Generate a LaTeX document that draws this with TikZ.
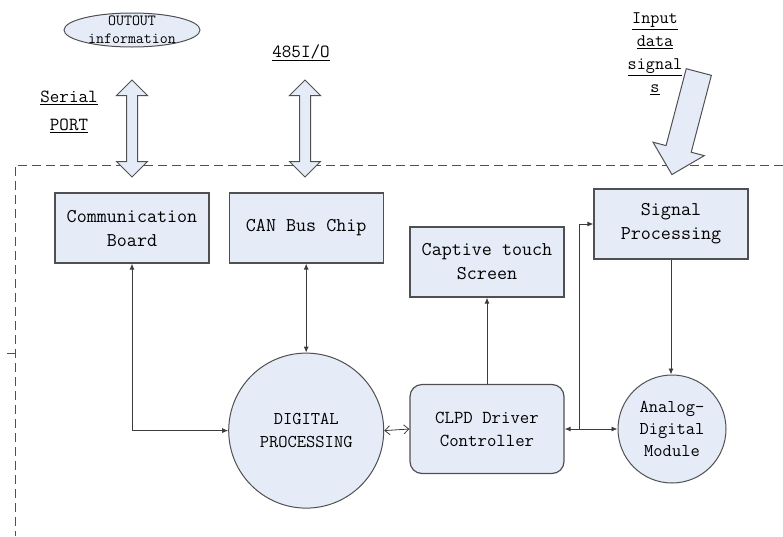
\documentclass[tikz,border=0pt]{standalone}
\usepackage{fontspec}
\usetikzlibrary{arrows.meta,positioning,shapes.geometric,shapes.arrows}
\definecolor{blockfill}{HTML}{E6ECF7}
\definecolor{blockline}{HTML}{505050}
\definecolor{wirecolor}{HTML}{3C3C3C}

\begin{document}
\begin{tikzpicture}[
  x=1pt, y=-1pt,
  font=\ttfamily\fontsize{18}{23}\selectfont,
  block/.style={rectangle, draw=blockline, fill=blockfill, line width=1.2pt, minimum width=154pt, minimum height=70pt, align=center, inner sep=2pt, font=\ttfamily\fontsize{19.5}{24}\selectfont},
  roundblock/.style={block, rounded corners=12pt, minimum height=89pt, font=\ttfamily\fontsize{18.3}{23}\selectfont},
  disc/.style={circle, draw=blockline, fill=blockfill, line width=1pt, align=center, inner sep=0pt},
  bubble/.style={ellipse, draw=blockline, fill=blockfill, line width=1pt, minimum width=136pt, minimum height=34pt, inner sep=0pt},
  busarrow/.style={double arrow, draw=blockline, fill=blockfill, line width=1pt, rotate=90, minimum height=97pt, inner sep=5pt, double arrow head extend=10pt},
  inarrow/.style={single arrow, draw=blockline, fill=blockfill, line width=1pt, minimum height=106pt, inner sep=12.5pt, single arrow head extend=13.5pt},
  portlabel/.style={align=center, font=\ttfamily\fontsize{18.5}{23}\selectfont},
  wire/.style={draw=wirecolor, line width=0.9pt, {Latex[length=6pt,width=5pt]}-{Latex[length=6pt,width=5pt]}},
  openwire/.style={draw=wirecolor, line width=0.8pt, {Straight Barb[length=5pt,width=9pt]}-{Straight Barb[length=5pt,width=9pt]}}
]
\useasboundingbox (0,0) rectangle (783,536);

% system boundary
\draw[blockline, line width=0.8pt, dash pattern=on 9pt off 5pt] (783,165) -- (15,165) -- (15,536);
\draw[blockline, line width=0.8pt] (7,353) -- (15,353) -- (15,357);

% outside world
\node[bubble, label={[font=\ttfamily\fontsize{15.5}{18}\selectfont, align=center]center:OUTOUT\\information}] (outinfo) at (132,30) {};
\node[portlabel] (serial) at (69,112) {\underline{Serial}\\[5pt]\underline{PORT}};
\node[portlabel] (rs485) at (301,53) {\underline{485I/O}};
\node[portlabel, font=\ttfamily\fontsize{17.7}{23}\selectfont] (insig) at (655,54) {\underline{Input}\\\underline{data}\\\underline{signal}\\\underline{s}};
\node[busarrow] (serialbus) at (132,128.5) {};
\node[busarrow] (canbus) at (305,128.5) {};
\node[inarrow, rotate=255.3] (inflow) at (687,117) {};

% blocks
\node[block] (comm) at (132,228) {Communication\\Board};
\node[block, right=19pt of comm] (can) {CAN Bus Chip};
\node[block] (touch) at (487,262) {Captive touch\\Screen};
\node[block] (sig) at (671,224) {Signal\\Processing};
\node[disc, minimum size=155pt, below=89pt of can] (dig) {DIGITAL\\PROCESSING};
\node[roundblock] (clpd) at (487,429) {CLPD Driver\\Controller};
\node[disc, minimum size=108pt, font=\ttfamily\fontsize{18}{22}\selectfont] (adc) at (672,429) {Analog-\\Digital\\Module};
\coordinate (tap) at (579,429);

% links
\draw[wire] (comm.south) |- (dig.west);
\draw[wire] (can.south) -- (dig.north);
\draw[openwire] (dig.east) -- (clpd.west);
\draw[wire, {-Latex[length=6pt,width=5pt]}] (clpd.north) -- (touch.south);
\draw[wire] (clpd.east) -- (adc.west);
\draw[wire, {-Latex[length=6pt,width=5pt]}] (tap) |- (sig.west);
\draw[wire, {-Latex[length=6pt,width=5pt]}] (sig.south) -- (sig.south |- adc.north);
\end{tikzpicture}
\end{document}
